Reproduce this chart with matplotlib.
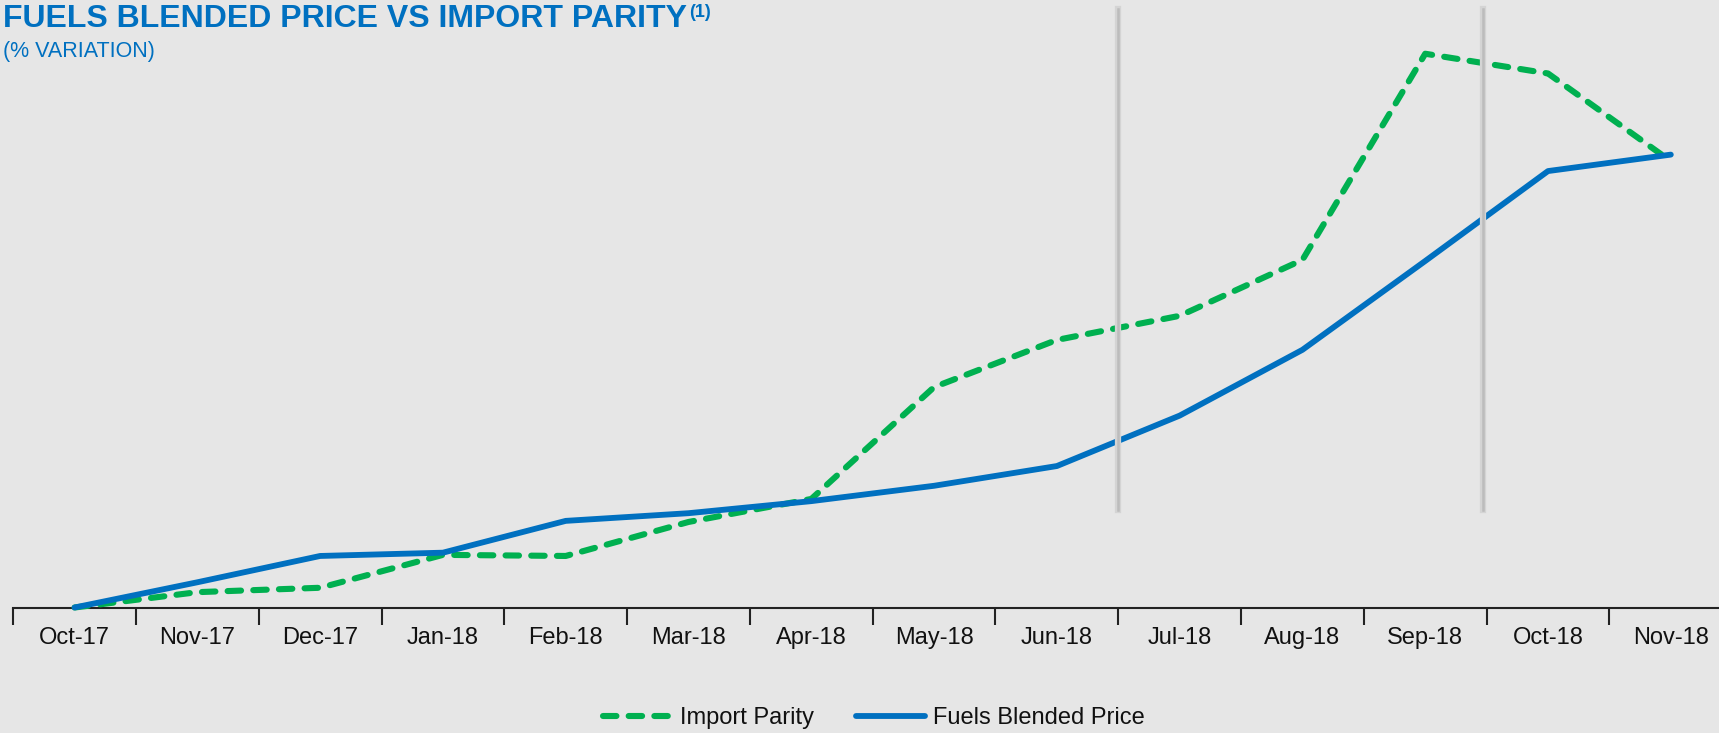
import matplotlib
matplotlib.use("Agg")
import matplotlib.pyplot as plt
import numpy as np

# data (arbitrary % variation units, Oct-17 = 0)
months = ["Oct-17", "Nov-17", "Dec-17", "Jan-18", "Feb-18", "Mar-18", "Apr-18",
          "May-18", "Jun-18", "Jul-18", "Aug-18", "Sep-18", "Oct-18", "Nov-18"]
import_parity = [0, 2.8, 3.6, 9.6, 9.4, 15.6, 19.8, 40.2, 48.8, 53.2, 63.4, 101.0, 97.4, 81.4]
blended_price = [0, 4.6, 9.4, 10.0, 15.8, 17.2, 19.4, 22.2, 25.8, 35.0, 47.0, 63.2, 79.6, 82.6]
marker_lines = [8.5, 11.47]

BG = "#e6e6e6"
BLUE = "#0070c0"
GREEN = "#00b050"
FONT = ["Liberation Sans Narrow", "Liberation Sans", "DejaVu Sans"]
plt.rcParams["font.family"] = FONT

W, H = 1719, 733
fig = plt.figure(figsize=(W / 100, H / 100), dpi=100, facecolor=BG)
ax = fig.add_axes([13.2 / W, 1 - 607.5 / H, 1.0, 607.5 / H])
ax.set_facecolor(BG)

x = np.arange(len(months))
ax.plot(x, import_parity, color=GREEN, lw=4.4, ls=(0, (2.2, 2.0)),
        dash_capstyle="round", solid_capstyle="round", clip_on=False,
        label="Import Parity", zorder=3)
ax.plot(x, blended_price, color=BLUE, lw=4.2, solid_capstyle="round",
        clip_on=False, label="Fuels Blended Price", zorder=4)

for xv in marker_lines:
    ax.axvline(xv, ymin=0.16, ymax=0.985, color="#d4d4d4", lw=4.5, zorder=5)
    ax.axvline(xv, ymin=0.16, ymax=0.985, color="#bcbcbc", lw=1.8, zorder=6)

ax.set_xlim(-0.5, len(months) - 0.5)
ax.set_ylim(0, 110.8)
ax.set_xticks(x)
ax.set_xticklabels(months, fontsize=17, color="#111111")
ax.set_xticks(np.arange(-0.5, len(months)), minor=True)
ax.tick_params(axis="x", which="major", length=0, pad=14)
ax.tick_params(axis="x", which="minor", length=12, width=1.5, color="#222222")
ax.set_yticks([])
for s in ["left", "right", "top"]:
    ax.spines[s].set_visible(False)
ax.spines["bottom"].set_linewidth(1.5)
ax.spines["bottom"].set_color("#222222")

# title with superscript
title = fig.text(3 / W, 1 - 4 / H, "FUELS BLENDED PRICE VS IMPORT PARITY",
                 fontsize=23, fontweight="bold", color=BLUE, va="top", ha="left")
fig.canvas.draw()
bb = title.get_window_extent()
fig.text(bb.x1 / W + 2 / W, 1 - 4 / H, "(1)", fontsize=13, fontweight="bold",
         color=BLUE, va="top", ha="left")
fig.text(3 / W, 1 - 41 / H, "(% VARIATION)", fontsize=15.5, color=BLUE,
         va="top", ha="left")

leg = fig.legend(loc="center", bbox_to_anchor=(0.5085, 0.02), ncol=2,
                 frameon=False, fontsize=17, handlelength=2.9,
                 handletextpad=0.35, columnspacing=1.8)
for t in leg.get_texts():
    t.set_color("#111111")

fig.savefig("out.png", dpi=100, facecolor=BG)
